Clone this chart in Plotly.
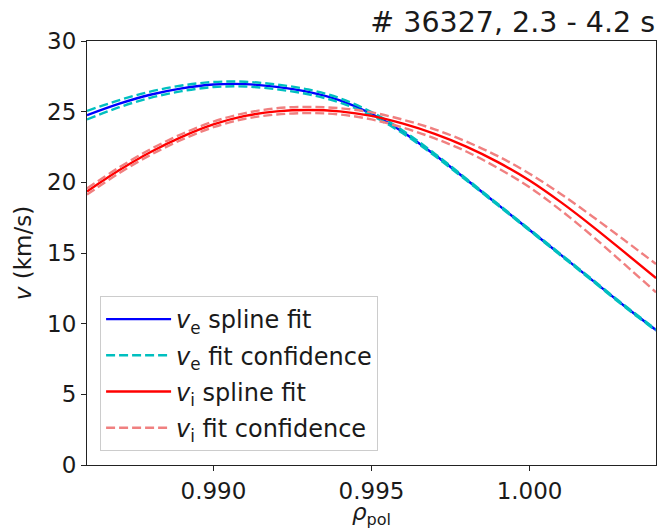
import plotly.graph_objects as go

rho = [0.986, 0.987, 0.988, 0.989, 0.990, 0.991, 0.992, 0.993, 0.994, 0.995,
       0.996, 0.997, 0.998, 0.999, 1.000, 1.001, 1.002, 1.003, 1.004]

ve_fit = [24.75, 25.55, 26.2, 26.65, 26.92, 26.95, 26.75, 26.4, 25.8, 24.85,
          23.55, 21.95, 20.2, 18.42, 16.63, 14.85, 13.05, 11.25, 9.55]
ve_upper = [25.05, 25.8, 26.42, 26.85, 27.1, 27.12, 26.92, 26.57, 25.95, 24.97,
            23.65, 22.03, 20.26, 18.47, 16.68, 14.9, 13.1, 11.3, 9.6]
ve_lower = [24.45, 25.3, 25.98, 26.45, 26.74, 26.78, 26.58, 26.23, 25.65, 24.73,
            23.45, 21.87, 20.14, 18.37, 16.58, 14.8, 13.0, 11.2, 9.5]

vi_fit = [19.35, 20.83, 22.13, 23.22, 24.1, 24.7, 25.02, 25.12, 25.02, 24.7,
          24.15, 23.43, 22.53, 21.43, 20.13, 18.58, 16.87, 15.06, 13.22]
vi_upper = [19.57, 21.03, 22.33, 23.42, 24.3, 24.9, 25.24, 25.34, 25.24, 24.95,
            24.43, 23.75, 22.88, 21.85, 20.61, 19.16, 17.57, 15.91, 14.22]
vi_lower = [19.13, 20.63, 21.93, 23.02, 23.9, 24.5, 24.8, 24.9, 24.8, 24.45,
            23.87, 23.11, 22.18, 21.01, 19.65, 18.0, 16.17, 14.21, 12.22]

title_text = "# 36327, 2.3 - 4.2 s"
x_ticks = [0.990, 0.995, 1.000]
x_ticklabels = ["0.990", "0.995", "1.000"]
y_ticks = [0, 5, 10, 15, 20, 25, 30]

FONT = "DejaVu Sans"
LW = 2.4
DASH = "9px,4px"

fig = go.Figure()
fig.add_trace(go.Scatter(x=rho, y=ve_fit, mode="lines", line_shape="spline",
                         line=dict(color="#0000ff", width=LW),
                         name="<i>v</i><sub>e</sub> spline fit"))
fig.add_trace(go.Scatter(x=rho, y=ve_upper, mode="lines", line_shape="spline",
                         line=dict(color="#00bfbf", width=LW, dash=DASH),
                         name="<i>v</i><sub>e</sub> fit confidence", legendgroup="ec"))
fig.add_trace(go.Scatter(x=rho, y=ve_lower, mode="lines", line_shape="spline",
                         line=dict(color="#00bfbf", width=LW, dash=DASH),
                         showlegend=False, legendgroup="ec"))
fig.add_trace(go.Scatter(x=rho, y=vi_fit, mode="lines", line_shape="spline",
                         line=dict(color="#ff0000", width=LW),
                         name="<i>v</i><sub>i</sub> spline fit"))
fig.add_trace(go.Scatter(x=rho, y=vi_upper, mode="lines", line_shape="spline",
                         line=dict(color="#f08080", width=LW, dash=DASH),
                         name="<i>v</i><sub>i</sub> fit confidence", legendgroup="ic"))
fig.add_trace(go.Scatter(x=rho, y=vi_lower, mode="lines", line_shape="spline",
                         line=dict(color="#f08080", width=LW, dash=DASH),
                         showlegend=False, legendgroup="ic"))

axis_common = dict(showline=True, mirror=True, linecolor="#222", linewidth=1.2,
                   ticks="outside", ticklen=5, tickwidth=1.2, tickcolor="#222",
                   showgrid=False, zeroline=False,
                   tickfont=dict(family=FONT, size=23, color="#1a1a1a"))

fig.update_layout(
    width=657, height=529,
    margin=dict(l=87, r=1, t=41, b=64),
    plot_bgcolor="white", paper_bgcolor="white",
    font=dict(family=FONT, color="#1a1a1a"),
    title=dict(text=title_text, x=655/657, xanchor="right", xref="container",
               y=1 - 22/529, yanchor="middle", yref="container",
               font=dict(family=FONT, size=28.5, color="#1a1a1a")),
    xaxis=dict(range=[0.986, 1.004], tickvals=x_ticks, ticktext=x_ticklabels,
               title=dict(text="<i>ρ</i><sub>pol</sub>", font=dict(size=23), standoff=6),
               **axis_common),
    yaxis=dict(range=[0, 30], tickvals=y_ticks,
               title=dict(text="<i>v</i> (km/s)", font=dict(size=23), standoff=8),
               **axis_common),
    legend=dict(x=0.023, y=0.033, xanchor="left", yanchor="bottom",
                bgcolor="rgba(255,255,255,0.8)", bordercolor="#cccccc", borderwidth=1,
                font=dict(family=FONT, size=24, color="#1a1a1a"),
                itemwidth=65, tracegroupgap=2),
)

fig.write_html("out.html")
